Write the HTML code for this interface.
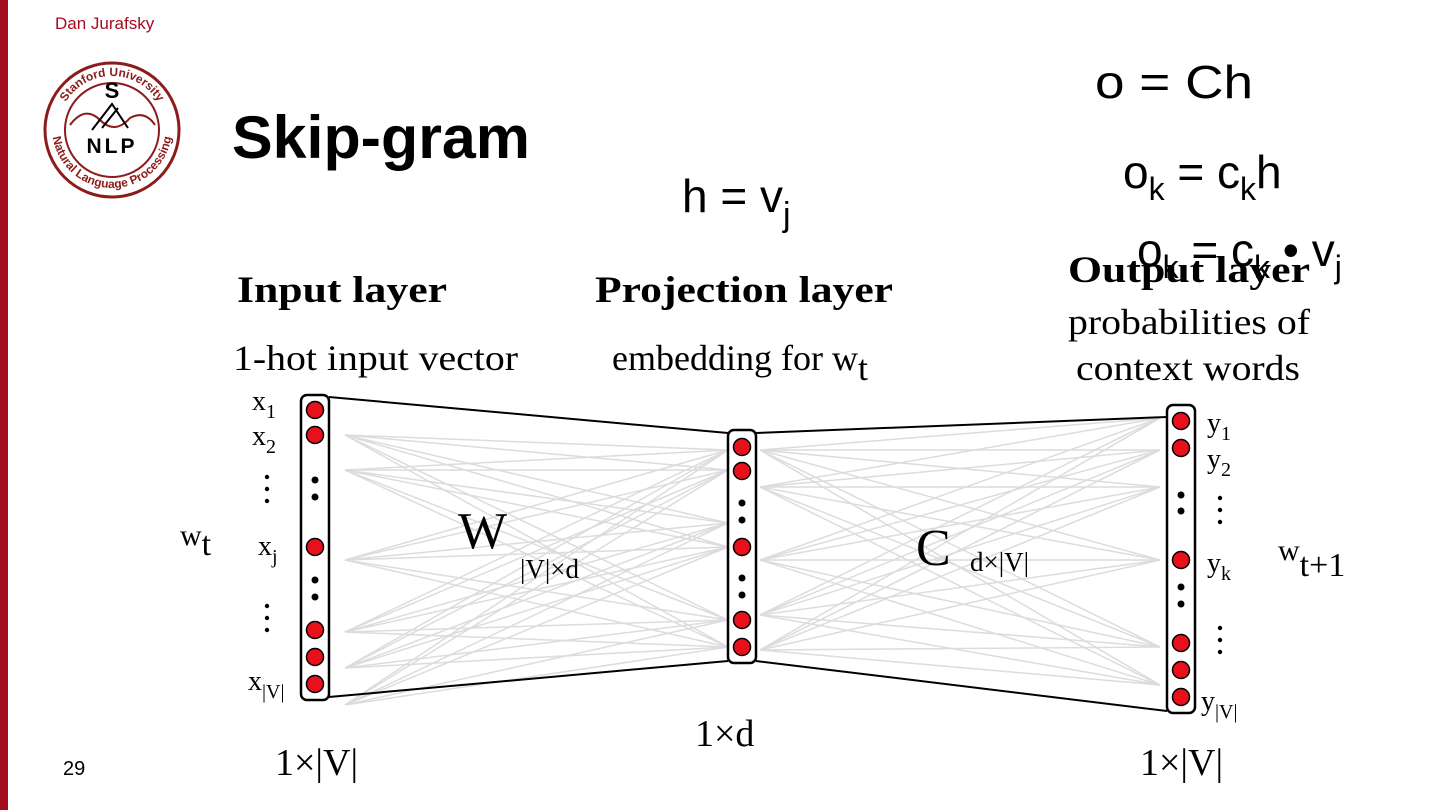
<!DOCTYPE html>
<html><head><meta charset="utf-8"><style>
html,body{margin:0;padding:0;background:#fff}
svg{display:block}
.s{font-family:"Liberation Serif",serif}
.a{font-family:"Liberation Sans",sans-serif}
</style></head><body>
<svg id="sv" width="1440" height="810" viewBox="0 0 1440 810" xmlns="http://www.w3.org/2000/svg">
<rect x="0" y="0" width="8" height="810" fill="#a50d1f"/>
<text x="55" y="29" class="a" font-size="17" fill="#a50d1f">Dan Jurafsky</text>
<circle cx="112" cy="130" r="67" fill="none" stroke="#8c1c1c" stroke-width="3"/>
<circle cx="112" cy="130" r="47" fill="none" stroke="#8c1c1c" stroke-width="2"/>
<path id="arcT" d="M58,130 A54,54 0 0 1 166,130" fill="none"/>
<path id="arcB" d="M52,128 A60,60 0 0 0 172,128" fill="none"/>
<text class="a" font-size="12" font-weight="bold" fill="#8c1c1c"><textPath href="#arcT" startOffset="50%" text-anchor="middle">Stanford University</textPath></text>
<text class="a" font-size="12" font-weight="bold" fill="#8c1c1c"><textPath href="#arcB" startOffset="50%" text-anchor="middle">Natural Language Processing</textPath></text>
<text x="112" y="98" class="a" font-size="22" font-weight="bold" text-anchor="middle">S</text>
<path d="M70,125 Q85,105 100,120 T130,118 Q145,110 155,125" fill="none" stroke="#8c1c1c" stroke-width="2"/>
<path d="M92,130 L112,104 L128,128 M102,128 L118,108" fill="none" stroke="#000" stroke-width="2"/>
<text x="112" y="153" class="a" font-size="21" font-weight="bold" text-anchor="middle" letter-spacing="3">NLP</text>
<text x="232" y="158" class="a" font-size="60" font-weight="bold" textLength="298" lengthAdjust="spacingAndGlyphs">Skip-gram</text>
<text x="1095" y="98" class="a" font-size="46" textLength="158" lengthAdjust="spacingAndGlyphs">o = Ch</text>
<text x="1123" y="188" class="a" font-size="46">o<tspan font-size="32" dy="12">k</tspan><tspan dy="-12"> = c</tspan><tspan font-size="32" dy="12">k</tspan><tspan dy="-12">h</tspan></text>
<text x="682" y="212" class="a" font-size="46">h = v<tspan font-size="34" dy="14">j</tspan></text>
<text x="1137" y="266" class="a" font-size="46">o<tspan font-size="32" dy="12">k</tspan><tspan dy="-12"> = c</tspan><tspan font-size="32" dy="12">k</tspan><tspan dy="-12"> • v</tspan><tspan font-size="32" dy="12">j</tspan></text>
<text x="1068" y="282" class="s" font-size="37" font-weight="bold" textLength="242" lengthAdjust="spacingAndGlyphs">Output layer</text>
<text x="237" y="302" class="s" font-size="37" font-weight="bold" textLength="210" lengthAdjust="spacingAndGlyphs">Input layer</text>
<text x="595" y="302" class="s" font-size="37" font-weight="bold" textLength="298" lengthAdjust="spacingAndGlyphs">Projection layer</text>
<text x="1068" y="334" class="s" font-size="36" textLength="242" lengthAdjust="spacingAndGlyphs">probabilities of</text>
<text x="1076" y="380" class="s" font-size="36" textLength="224" lengthAdjust="spacingAndGlyphs">context words</text>
<text x="233" y="370" class="s" font-size="36" textLength="285" lengthAdjust="spacingAndGlyphs">1-hot input vector</text>
<text x="612" y="370" class="s" font-size="36">embedding for w<tspan dy="10" font-size="36">t</tspan></text>
<g id="gl" stroke="#dcdcdc" stroke-width="1.5"></g>
<g stroke="#000" stroke-width="2">
<line x1="329" y1="397" x2="728" y2="433"/><line x1="329" y1="697" x2="728" y2="661"/>
<line x1="756" y1="433" x2="1167" y2="417"/><line x1="756" y1="661" x2="1167" y2="711"/>
</g>
<g fill="#fff" stroke="#000" stroke-width="2.5">
<rect x="301" y="395" width="28" height="305" rx="6"/>
<rect x="728" y="430" width="28" height="233" rx="6"/>
<rect x="1167" y="405" width="28" height="308" rx="6"/>
</g>
<g id="nodes" fill="#e8101a" stroke="#000" stroke-width="1.5"></g>
<g id="dots" fill="#000"></g>
<g class="s" font-size="28">
<text x="252" y="410">x<tspan font-size="20" dy="8">1</tspan></text>
<text x="252" y="445">x<tspan font-size="20" dy="8">2</tspan></text>
<text x="258" y="555">x<tspan font-size="20" dy="8">j</tspan></text>
<text x="248" y="690">x<tspan font-size="20" dy="8">|V|</tspan></text>
<text x="1207" y="432">y<tspan font-size="20" dy="8">1</tspan></text>
<text x="1207" y="468">y<tspan font-size="20" dy="8">2</tspan></text>
<text x="1207" y="572">y<tspan font-size="20" dy="8">k</tspan></text>
<text x="1201" y="710">y<tspan font-size="20" dy="8">|V|</tspan></text>
</g>
<text x="180" y="545" class="s" font-size="30">w<tspan dy="10" font-size="34">t</tspan></text>
<text x="1278" y="560" class="s" font-size="30">w<tspan dy="16" font-size="34">t+1</tspan></text>
<text x="458" y="548" class="s" font-size="52">W</text>
<text x="520" y="578" class="s" font-size="27">|V|×d</text>
<text x="916" y="565" class="s" font-size="52">C</text>
<text x="970" y="571" class="s" font-size="27">d×|V|</text>
<text x="695" y="746" class="s" font-size="38">1×d</text>
<text x="275" y="775" class="s" font-size="38">1×|V|</text>
<text x="1140" y="775" class="s" font-size="38">1×|V|</text>
<text x="63" y="775" class="a" font-size="20">29</text>
</svg>
<script>
var NS="http://www.w3.org/2000/svg";
function el(p,t,a){var e=document.createElementNS(NS,t);for(var k in a)e.setAttribute(k,a[k]);document.getElementById(p).appendChild(e);}
var L=[435,470,560,632,668,705],M=[450,470,523,547,620,647];
L.forEach(function(a){M.forEach(function(b){el("gl","line",{x1:345,y1:a,x2:728,y2:b});});});
var M2=[450,487,560,615,650],R=[418,450,487,560,647,685];
M2.forEach(function(a){R.forEach(function(b){el("gl","line",{x1:760,y1:a,x2:1160,y2:b});});});
[[315,[410,435,547,630,657,684]],[742,[447,471,547,620,647]],[1181,[421,448,560,643,670,697]]].forEach(function(c){c[1].forEach(function(y){el("nodes","circle",{cx:c[0],cy:y,r:8.5});});});
[[315,[480,497,580,597]],[742,[503,520,578,595]],[1181,[495,511,587,604]]].forEach(function(c){c[1].forEach(function(y){el("dots","circle",{cx:c[0],cy:y,r:3.5});});});
[[267,[477,489,501,606,618,630]],[1220,[498,510,522,628,640,652]]].forEach(function(c){c[1].forEach(function(y){el("dots","circle",{cx:c[0],cy:y,r:2.2});});});
</script>
</body></html>
